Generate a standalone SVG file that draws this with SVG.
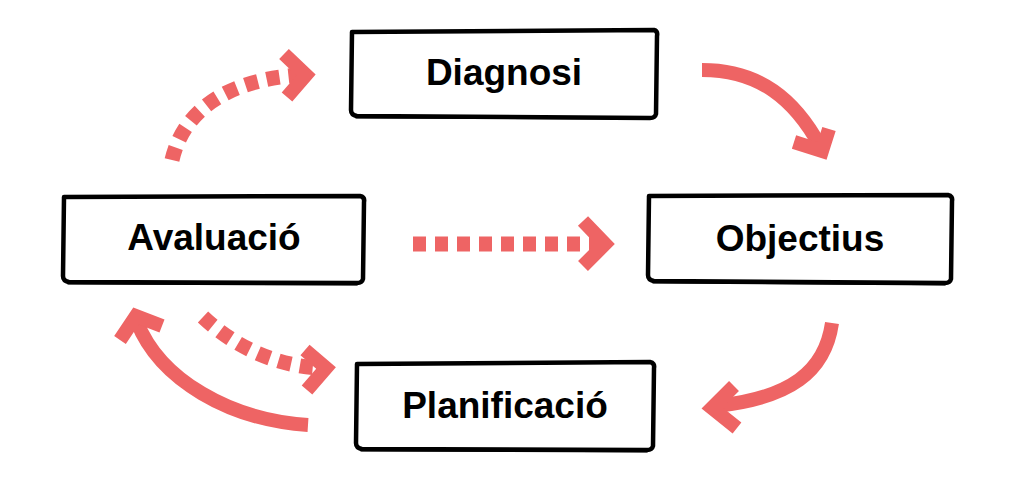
<svg xmlns="http://www.w3.org/2000/svg" width="1024" height="482" viewBox="0 0 1024 482">
  <style>
    .box { fill: #ffffff; stroke: #000000; stroke-width: 4.5; stroke-linejoin: round; stroke-linecap: round; }
    .edge { fill: none; stroke: #000000; stroke-width: 3; stroke-linecap: round; }
    .label { font-family: "Liberation Sans", Arial, Helvetica, sans-serif; font-weight: bold; font-size: 37px; fill: #000000; text-anchor: middle; }
    .solid { fill: none; stroke: #ee6464; stroke-width: 14; stroke-linecap: butt; }
    .dashed { fill: none; stroke: #ee6464; stroke-width: 15; stroke-dasharray: 13 9; stroke-linecap: butt; }
    .head { fill: none; stroke: #ee6464; stroke-width: 14; stroke-linejoin: miter; stroke-linecap: butt; }
  </style>

  <g id="connectors">
    <!-- Avaluacio -> Diagnosi (dashed) -->
    <path class="dashed" d="M172,160 C183,112 225,80 300,75"/>
    <path class="head" d="M284,54 L306,75 L287,97"/>
    <!-- Diagnosi -> Objectius -->
    <path class="solid" d="M702,70 C760,70 795,100 820,146"/>
    <path class="head" d="M794,142 L822,151 L829,129"/>
    <!-- Avaluacio -> Objectius (dashed) -->
    <path class="dashed" d="M413,244 L600,244"/>
    <path class="head" d="M583,221 L605,244 L583,266"/>
    <!-- Objectius -> Planificacio -->
    <path class="solid" d="M832,323 C825,372 790,398 716,406"/>
    <path class="head" d="M734,386 L712,408 L737,428"/>
    <!-- Planificacio -> Avaluacio -->
    <path class="solid" d="M308,425 C230,420 160,380 137,322"/>
    <path class="head" d="M120,340 L136,316 L162,326"/>
    <!-- Avaluacio -> Planificacio (dashed) -->
    <path class="dashed" d="M203,317 C238,350 280,366 320,368"/>
    <path class="head" d="M305,350 L326,368 L307,390"/>
  </g>

  <g id="node-diagnosi">
    <path class="box" d="M352,32 L654,30 Q658,31 657,36 L656,114 Q655,118 650,118 L357,116 Q351,115 351,110 Z"/>
    <path class="edge" d="M356,117 L650,118"/>
    <text class="label" x="504" y="85">Diagnosi</text>
  </g>

  <g id="node-avaluacio">
    <path class="box" d="M64,197 L360,196 Q365,197 364,202 L363,279 Q362,283 357,283 L69,282 Q63,281 63,276 Z"/>
    <path class="edge" d="M68,283 L357,284"/>
    <text class="label" x="214" y="250">Avaluació</text>
  </g>

  <g id="node-objectius">
    <path class="box" d="M649,196 L948,195 Q953,196 952,201 L951,279 Q950,283 945,283 L654,281 Q648,280 648,275 Z"/>
    <path class="edge" d="M653,282 L945,284"/>
    <text class="label" x="800" y="251">Objectius</text>
  </g>

  <g id="node-planificacio">
    <path class="box" d="M357,364 L650,362 Q655,363 654,368 L653,446 Q652,450 647,450 L362,449 Q356,448 356,443 Z"/>
    <path class="edge" d="M361,450 L647,451"/>
    <text class="label" x="505" y="418">Planificació</text>
  </g>
</svg>
